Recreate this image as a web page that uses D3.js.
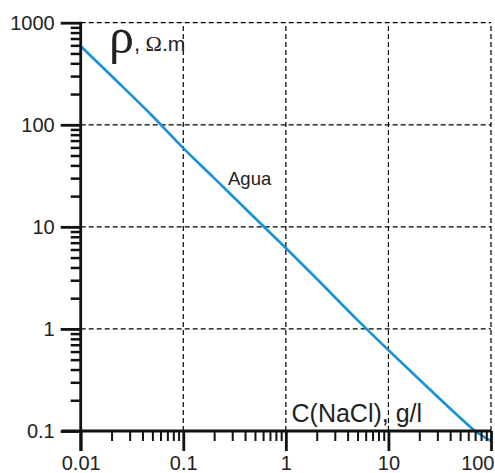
<!DOCTYPE html>
<html>
<head>
<meta charset="utf-8">
<script src="https://cdn.jsdelivr.net/npm/d3@7"></script>
<style>
  html, body { margin: 0; padding: 0; background: #fff; }
  svg { display: block; }
</style>
</head>
<body>
<svg id="chart" width="495" height="473"></svg>
<script>
// ---- data ----
const concentration = [0.01, 0.02, 0.05, 0.1, 0.2, 0.5, 1, 2, 5, 10, 20, 50, 70, 100]; // g/l NaCl
const resistivity   = [590, 300, 122, 59, 30, 12.2, 6.2, 3.1, 1.22, 0.62, 0.32, 0.135, 0.1, 0.08]; // Ω·m
const xTickLabels = ["0.01", "0.1", "1", "10", "100"];
const yTickLabels = ["0.1", "1", "10", "100", "1000"];
const xMajor = [0.01, 0.1, 1, 10, 100];
const yMajor = [0.1, 1, 10, 100, 1000];
const seriesLabel = "Agua";
const xTitle = "C(NaCl), g/l";

// ---- setup ----
const svg = d3.select("#chart");
const FONT = "'Liberation Sans', Arial, Helvetica, sans-serif";
const SERIF = "'Liberation Serif', 'Times New Roman', serif";
const x = d3.scaleLog().domain([0.01, 100]).range([80.7, 491]);
const y = d3.scaleLog().domain([0.1, 1000]).range([431, 22.7]);

function minors(lo, hi) {
  const out = [];
  for (let d = lo; d < hi * 0.999; d *= 10) for (let k = 2; k <= 9; k++) out.push(d * k);
  return out;
}

// gridlines (dashed)
const grid = svg.append("g").attr("stroke", "#000").attr("stroke-width", 1.2)
  .attr("stroke-dasharray", "5,3").attr("fill", "none");
grid.selectAll("line.gx").data(xMajor.slice(1)).join("line")
  .attr("x1", d => x(d)).attr("x2", d => x(d))
  .attr("y1", y(0.1)).attr("y2", y(1000));
grid.selectAll("line.gy").data(yMajor.slice(1)).join("line")
  .attr("y1", d => y(d)).attr("y2", d => y(d))
  .attr("x1", x(0.01)).attr("x2", x(100));

// curve
const line = d3.line()
  .x((d, i) => x(concentration[i]))
  .y((d, i) => y(resistivity[i]))
  .curve(d3.curveMonotoneX);
svg.append("path").datum(resistivity)
  .attr("d", line)
  .attr("fill", "none")
  .attr("stroke", "#1b92d8")
  .attr("stroke-width", 2.7);

// axes
function styleAxis(g, w) {
  g.select(".domain").remove();
  g.selectAll(".tick line").attr("stroke", "#111").attr("stroke-width", w);
  g.selectAll("text").attr("fill", "#222").style("font-family", FONT).style("font-size", "20px");
}
// x minor
const gxm = svg.append("g").attr("transform", `translate(0,${y(0.1)})`)
  .call(d3.axisBottom(x).tickValues(minors(0.01, 100)).tickSize(10).tickFormat(""));
styleAxis(gxm, 2);
// y minor
const gym = svg.append("g").attr("transform", `translate(${x(0.01)},0)`)
  .call(d3.axisLeft(y).tickValues(minors(0.1, 1000)).tickSize(10).tickFormat(""));
styleAxis(gym, 2.5);
// x major
const gx = svg.append("g").attr("transform", `translate(0,${y(0.1)})`)
  .call(d3.axisBottom(x).tickValues(xMajor).tickSize(20).tickPadding(5)
    .tickFormat((d, i) => xTickLabels[i]));
styleAxis(gx, 2.8);
// last label sits flush with the right edge, as in the reference
gx.selectAll(".tick text").filter(d => d === 100).attr("text-anchor", "end").attr("dx", 3);
// y major
const gy = svg.append("g").attr("transform", `translate(${x(0.01)},0)`)
  .call(d3.axisLeft(y).tickValues(yMajor).tickSize(20).tickPadding(6)
    .tickFormat((d, i) => yTickLabels[i]));
styleAxis(gy, 2.8);

// axis lines
svg.append("line").attr("x1", x(0.01) - 19).attr("x2", x(100))
  .attr("y1", y(0.1)).attr("y2", y(0.1)).attr("stroke", "#111").attr("stroke-width", 2.8);
svg.append("line").attr("x1", x(0.01)).attr("x2", x(0.01))
  .attr("y1", y(1000) - 1).attr("y2", y(0.1) + 20).attr("stroke", "#111").attr("stroke-width", 2.8);

// y title: ρ, Ω.m
const yt = svg.append("text").attr("x", 109).attr("y", 53).attr("fill", "#222");
yt.append("tspan").text("ρ").style("font-family", SERIF).style("font-size", "50px");
yt.append("tspan").text(",").style("font-family", FONT).style("font-size", "22px").attr("dy", -2);
yt.append("tspan").text(" Ω").style("font-family", SERIF).style("font-size", "22px");
yt.append("tspan").text(".m").style("font-family", FONT).style("font-size", "21px");

// series label
svg.append("text").attr("x", 228).attr("y", 185).text(seriesLabel)
  .attr("fill", "#222").style("font-family", FONT).style("font-size", "18.5px");

// x title
svg.append("text").attr("x", 291.5).attr("y", 421.5).text(xTitle)
  .attr("fill", "#222").style("font-family", FONT).style("font-size", "25px");
</script>
</body>
</html>
